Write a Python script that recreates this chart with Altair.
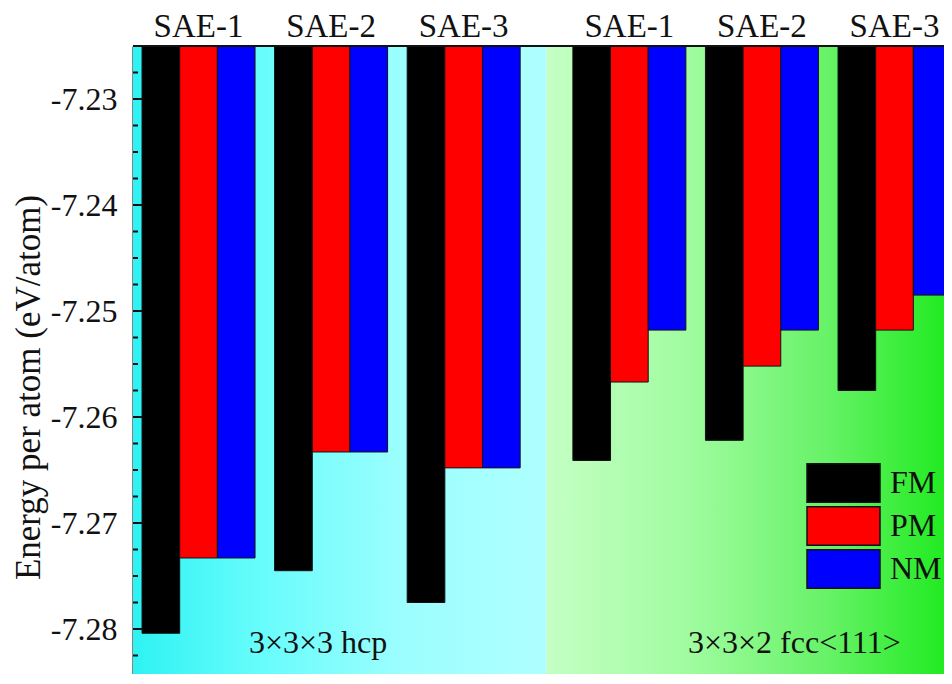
import altair as alt
import pandas as pd

# ---------------- data ----------------
STRUCTURES = ["3×3×3 hcp", "3×3×2 fcc<111>"]
CELLS = ["SAE-1", "SAE-2", "SAE-3"]
SERIES = ["FM", "PM", "NM"]
COLORS = ["#000000", "#ff0000", "#0000ff"]

HCP_FM = [-7.2804, -7.2745, -7.2775]
HCP_PM = [-7.2733, -7.2633, -7.2648]
HCP_NM = [-7.2733, -7.2633, -7.2648]
FCC_FM = [-7.2641, -7.2622, -7.2575]
FCC_PM = [-7.2567, -7.2552, -7.2518]
FCC_NM = [-7.2518, -7.2518, -7.2485]

Y_BOTTOM, Y_TOP = -7.285, -7.225
MAJOR_TICKS = [-7.28, -7.27, -7.26, -7.25, -7.24, -7.23]
MINOR_TICKS = [round(-7.2825 + 0.0025 * i, 4) for i in range(23)]

# ---------------- layout (in bar-width units) ----------------
FULL_W, FULL_H = 818, 636      # full frame of the original figure
W, H = 811, 628                # part of it that fits in the window
PAD, GAP, SGAP = 0.24, 0.52, 1.40
STRUCT_SPAN = 3 * 3 + 2 * GAP
XMAX = PAD + 2 * STRUCT_SPAN + SGAP
BOUNDARY = PAD + STRUCT_SPAN + SGAP / 2
X_VIS = XMAX * W / FULL_W
Y_VIS_BOTTOM = Y_TOP - (Y_TOP - Y_BOTTOM) * H / FULL_H

values = {
    (0, "FM"): HCP_FM, (0, "PM"): HCP_PM, (0, "NM"): HCP_NM,
    (1, "FM"): FCC_FM, (1, "PM"): FCC_PM, (1, "NM"): FCC_NM,
}

rows, centers = [], []
for s in range(2):
    for c, cell in enumerate(CELLS):
        g0 = PAD + s * (STRUCT_SPAN + SGAP) + c * (3 + GAP)
        centers.append({"cell": cell, "xc": g0 + 1.5})
        for k, ser in enumerate(SERIES):
            rows.append({"structure": STRUCTURES[s], "cell": cell, "series": ser,
                         "value": values[(s, ser)][c], "x0": g0 + k, "x1": g0 + k + 1})
bars_df = pd.DataFrame(rows)
centers_df = pd.DataFrame(centers)
bg_left = pd.DataFrame({"x0": [0.0], "x1": [BOUNDARY]})
bg_right = pd.DataFrame({"x0": [BOUNDARY], "x1": [XMAX]})

FONT = "Liberation Serif"
INK = "#111111"

xs = alt.Scale(domain=[0, X_VIS], nice=False, zero=False)
ys = alt.Scale(domain=[Y_VIS_BOTTOM, Y_TOP], nice=False, zero=False)

xaxis = alt.Axis(orient="bottom", labels=False, ticks=False, title=None, grid=False,
                 domainColor=INK, domainWidth=2)
yaxis = alt.Axis(values=MAJOR_TICKS, ticks=False, grid=False,
                 labelExpr="'-' + format(abs(datum.value), '.2f')",
                 labelPadding=16, labelFont=FONT, labelFontSize=32, labelColor=INK,
                 title="Energy per atom (eV/atom)", titleFont=FONT, titleFontSize=35,
                 titleFontWeight="normal", titleColor=INK, titleX=-94, titleY=341,
                 titleBaseline="alphabetic", domainColor=INK, domainWidth=2)


def grad(stops):
    return alt.LinearGradient(
        gradient="linear",
        stops=[alt.GradientStop(color=c, offset=o) for o, c in stops],
        x1=0, x2=1, y1=0, y2=0)


left_bg = alt.Chart(bg_left).mark_rect(
    clip=True,
    color=grad([(0, "#2ef2f2"), (0.3, "#66fcfc"), (0.65, "#9cfefe"), (1, "#aeffff")])
).encode(x=alt.X("x0:Q", scale=xs, axis=xaxis), x2="x1", y=alt.value(0), y2=alt.value(H))

right_bg = alt.Chart(bg_right).mark_rect(
    clip=True,
    color=grad([(0, "#c4ffc4"), (0.35, "#a0fca0"), (0.7, "#66f266"), (1, "#1eea1e")])
).encode(x=alt.X("x0:Q", scale=xs, axis=xaxis), x2="x1", y=alt.value(0), y2=alt.value(H))

bars = alt.Chart(bars_df).mark_rect(stroke=INK, strokeWidth=1, clip=True).encode(
    x=alt.X("x0:Q", scale=xs, axis=xaxis),
    x2="x1",
    y=alt.Y("value:Q", scale=ys, axis=yaxis),
    y2=alt.value(0),
    color=alt.Color("series:N", scale=alt.Scale(domain=SERIES, range=COLORS),
                    legend=alt.Legend(title=None, orient="none", legendX=673, legendY=417,
                                      symbolType="M-1,-0.53H1V0.53H-1Z", symbolSize=5329,
                                      clipHeight=40, rowPadding=3, padding=0,
                                      labelFont=FONT, labelFontSize=32, labelColor=INK,
                                      labelOffset=9, symbolStrokeColor=INK,
                                      symbolStrokeWidth=1.5, symbolOpacity=1)),
)

major_df = pd.DataFrame({"v": MAJOR_TICKS})
minor_df = pd.DataFrame({"v": MINOR_TICKS})


def tick_layer(df, x_from, x_to):
    return alt.Chart(df).mark_rule(color=INK, strokeWidth=2).encode(
        y=alt.Y("v:Q", scale=ys, axis=yaxis), x=alt.value(x_from), x2=alt.value(x_to))


ticks = [tick_layer(major_df, 0, 9), tick_layer(minor_df, 0, 5)]

top_rule = alt.Chart(bg_left).mark_rule(color=INK, strokeWidth=2).encode(
    x=alt.value(0), x2=alt.value(W), y=alt.value(0))

cell_labels = alt.Chart(centers_df).mark_text(
    font=FONT, fontSize=33, color=INK, baseline="alphabetic", align="center"
).encode(x=alt.X("xc:Q", scale=xs, axis=xaxis), y=alt.value(-9), text="cell:N")

hcp_label = alt.Chart(bg_left).mark_text(
    font=FONT, fontSize=32, color=INK, align="left", baseline="alphabetic"
).encode(x=alt.value(116), y=alt.value(607), text=alt.value(STRUCTURES[0]))

fcc_label = alt.Chart(bg_left).mark_text(
    font=FONT, fontSize=32, color=INK, align="left", baseline="alphabetic"
).encode(x=alt.value(555), y=alt.value(607), text=alt.value(STRUCTURES[1]))

chart = alt.layer(
    left_bg, right_bg, bars, *ticks, top_rule, cell_labels, hcp_label, fcc_label
).properties(
    width=W, height=H,
    autosize=alt.AutoSizeParams(type="none"),
    padding={"left": 125, "top": 38, "right": 0, "bottom": 0},
).configure_view(stroke=None).configure(font=FONT)

chart.save("out.html", embed_options={"renderer": "svg", "actions": False})
